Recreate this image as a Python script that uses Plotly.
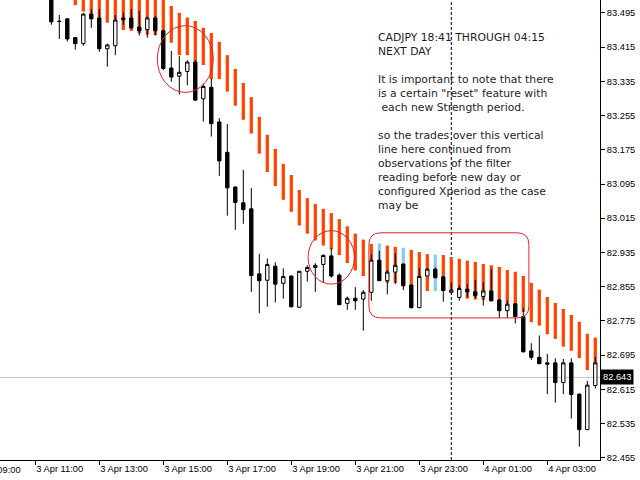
import pandas as pd
import plotly.graph_objects as go

# CADJPY M15, 3 Apr 11:30 -> 4 Apr 04:30
times = pd.date_range("2017-04-03 11:30", periods=69, freq="15min")

opens = [83.540, 83.475, 83.481, 83.437, 83.423, 83.492, 83.483, 83.411, 83.418, 83.483,
         83.483, 83.462, 83.456, 83.483, 83.453, 83.366, 83.347, 83.358, 83.380, 83.294,
         83.321, 83.240, 83.169, 83.088, 83.051, 83.037, 82.885, 82.870, 82.903, 82.863,
         82.880, 82.807, 82.891, 82.900, 82.907, 82.927, 82.882, 82.816, 82.828, 82.826,
         82.842, 82.917, 82.869, 82.889, 82.908, 82.859, 82.806, 82.880, 82.896, 82.878,
         82.842, 82.830, 82.849, 82.843, 82.832, 82.845, 82.824, 82.799, 82.815, 82.785,
         82.705, 82.690, 82.677, 82.677, 82.631, 82.677, 82.604, 82.521, 82.624]
highs = [83.555, 83.490, 83.482, 83.438, 83.495, 83.504, 83.504, 83.423, 83.490, 83.496,
         83.504, 83.499, 83.486, 83.487, 83.455, 83.406, 83.394, 83.384, 83.385, 83.330,
         83.342, 83.249, 83.235, 83.090, 83.128, 83.086, 82.932, 82.921, 82.912, 82.898,
         82.881, 82.892, 82.905, 82.910, 82.931, 82.945, 82.886, 82.832, 82.854, 82.847,
         82.931, 82.939, 82.894, 82.933, 82.909, 82.860, 82.899, 82.899, 82.900, 82.880,
         82.865, 82.858, 82.862, 82.871, 82.866, 82.896, 82.826, 82.823, 82.816, 82.805,
         82.723, 82.741, 82.698, 82.688, 82.686, 82.688, 82.605, 82.635, 82.691]
lows = [83.467, 83.434, 83.428, 83.409, 83.418, 83.460, 83.404, 83.369, 83.396, 83.467,
        83.457, 83.442, 83.437, 83.442, 83.361, 83.334, 83.304, 83.326, 83.290, 83.241,
        83.206, 83.114, 83.021, 82.988, 83.002, 82.843, 82.793, 82.808, 82.818, 82.827,
        82.807, 82.806, 82.867, 82.843, 82.864, 82.876, 82.812, 82.801, 82.801, 82.752,
        82.822, 82.869, 82.837, 82.861, 82.847, 82.804, 82.805, 82.880, 82.875, 82.820,
        82.837, 82.822, 82.830, 82.828, 82.811, 82.822, 82.782, 82.782, 82.769, 82.701,
        82.684, 82.675, 82.604, 82.584, 82.604, 82.547, 82.481, 82.520, 82.617]
closes = [83.474, 83.475, 83.434, 83.423, 83.492, 83.481, 83.411, 83.420, 83.478, 83.479,
          83.460, 83.453, 83.483, 83.453, 83.365, 83.345, 83.356, 83.380, 83.291, 83.323,
          83.236, 83.149, 83.086, 83.052, 83.035, 82.881, 82.869, 82.907, 82.861, 82.879,
          82.808, 82.891, 82.900, 82.905, 82.928, 82.880, 82.813, 82.828, 82.822, 82.842,
          82.917, 82.869, 82.889, 82.905, 82.857, 82.806, 82.879, 82.896, 82.876, 82.846,
          82.847, 82.851, 82.843, 82.834, 82.845, 82.822, 82.799, 82.814, 82.785, 82.703,
          82.690, 82.675, 82.674, 82.631, 82.677, 82.603, 82.521, 82.625, 82.677]

# strength filter histogram, 3 Apr 12:15 -> 4 Apr 04:30
band_times = pd.date_range("2017-04-03 12:15", periods=66, freq="15min")
band_hi = [83.603, 83.588, 83.580, 83.568, 83.562, 83.557, 83.545, 83.543, 83.537, 83.534,
           83.533, 83.529, 83.511, 83.495, 83.484, 83.476, 83.460, 83.448, 83.427, 83.396,
           83.364, 83.331, 83.298, 83.252, 83.210, 83.177, 83.142, 83.116, 83.081, 83.062,
           83.048, 83.037, 83.027, 83.013, 82.996, 82.979, 82.965, 82.955, 82.956, 82.951,
           82.948, 82.946, 82.941, 82.936, 82.931, 82.930, 82.929, 82.924, 82.920, 82.916,
           82.913, 82.908, 82.905, 82.901, 82.894, 82.890, 82.880, 82.864, 82.848, 82.831,
           82.817, 82.803, 82.789, 82.773, 82.745, 82.736]
band_lo = [83.513, 83.498, 83.490, 83.478, 83.472, 83.467, 83.455, 83.453, 83.447, 83.444,
           83.443, 83.439, 83.425, 83.396, 83.396, 83.373, 83.373, 83.340, 83.340, 83.311,
           83.278, 83.245, 83.213, 83.166, 83.123, 83.090, 83.058, 83.030, 82.998, 82.979,
           82.963, 82.951, 82.942, 82.929, 82.910, 82.893, 82.880, 82.871, 82.871, 82.864,
           82.864, 82.861, 82.857, 82.852, 82.845, 82.845, 82.845, 82.847, 82.834, 82.827,
           82.825, 82.824, 82.821, 82.822, 82.814, 82.814, 82.796, 82.772, 82.764, 82.744,
           82.733, 82.715, 82.705, 82.688, 82.660, 82.651]
reset_times = ["2017-04-03 21:45", "2017-04-03 22:30", "2017-04-03 23:30"]

bid = 82.643
new_day = "2017-04-04 00:00"
y_ticks = [82.455, 82.535, 82.615, 82.695, 82.775, 82.855, 82.935,
           83.015, 83.095, 83.175, 83.255, 83.335, 83.415, 83.495]

note = ("CADJPY 18:41 THROUGH 04:15<br>NEXT DAY<br> <br>"
        "It is important to note that there<br>"
        "is a certain \"reset\" feature with<br>"
        " each new Strength period.<br> <br>"
        "so the trades over this vertical<br>"
        "line here continued from<br>"
        "observations of the filter<br>"
        "reading before new day or<br>"
        "configured Xperiod as the case<br>"
        "may be")

x_start = pd.Timestamp("2017-04-03 09:53:48.75")
x_end = x_start + pd.Timedelta(minutes=15 * 75)

reset_set = set(pd.to_datetime(reset_times))
bar_colors = ["#87CEEB" if t in reset_set else "#FF4500" for t in band_times]

fig = go.Figure()
fig.add_trace(go.Bar(
    x=band_times, base=band_lo,
    y=[h - l for h, l in zip(band_hi, band_lo)],
    width=370000, marker=dict(color=bar_colors, line=dict(width=0)),
    showlegend=False, hoverinfo="skip"))
fig.add_trace(go.Candlestick(
    x=times, open=opens, high=highs, low=lows, close=closes,
    increasing=dict(line=dict(color="black", width=1), fillcolor="white"),
    decreasing=dict(line=dict(color="black", width=1), fillcolor="black"),
    whiskerwidth=0, showlegend=False))


def ts(t):
    return pd.Timestamp(t).strftime("%Y-%m-%d_%H:%M:%S")


def rounded_rect(x0, x1, y0, y1, rx, ry):
    x0, x1 = pd.Timestamp(x0), pd.Timestamp(x1)
    rx = pd.Timedelta(minutes=rx)
    return (f"M {ts(x0 + rx)},{y1} L {ts(x1 - rx)},{y1} "
            f"Q {ts(x1)},{y1} {ts(x1)},{y1 - ry} L {ts(x1)},{y0 + ry} "
            f"Q {ts(x1)},{y0} {ts(x1 - rx)},{y0} L {ts(x0 + rx)},{y0} "
            f"Q {ts(x0)},{y0} {ts(x0)},{y0 + ry} L {ts(x0)},{y1 - ry} "
            f"Q {ts(x0)},{y1} {ts(x0 + rx)},{y1} Z")


red = "#E4202F"
fig.add_hline(y=bid, line=dict(color="#C0C0C0", width=1), layer="below")
fig.add_vline(x=pd.Timestamp(new_day).value / 1e6,
              line=dict(color="black", width=1, dash="3px,2px"), layer="below")
fig.add_shape(type="circle", x0="2017-04-03 14:48:45", x1="2017-04-03 16:33:45",
              y0=83.309, y1=83.465, line=dict(color=red, width=1))
fig.add_shape(type="circle", x0="2017-04-03 19:31:30", x1="2017-04-03 20:58:30",
              y0=82.861, y1=82.986, line=dict(color=red, width=1))
fig.add_shape(type="path",
              path=rounded_rect("2017-04-03 21:25:30", "2017-04-04 02:25:30",
                                82.782, 82.981, 22.5, 0.028),
              line=dict(color=red, width=1))

fig.add_annotation(x="2017-04-03 21:39", y=83.457, xanchor="left", yanchor="top",
                   text=note, showarrow=False, align="left",
                   font=dict(family="DejaVu Sans", size=10.8, color="#1e1e1e"))

# price label of the bid line
fig.add_annotation(x=1, xref="paper", y=bid, xanchor="left", yanchor="middle",
                   text=f"{bid:.3f}", showarrow=False, bgcolor="black",
                   borderpad=2, font=dict(family="Liberation Sans", size=9.3, color="white"))

# first time label, cut by the left edge like in the terminal
t_first = pd.Timestamp("2017-04-03 09:00")
frac = (t_first - x_start) / (x_end - x_start)
fig.add_annotation(x=frac, xref="paper", y=0, yref="paper", yshift=-3,
                   xanchor="left", yanchor="top", text="3 Apr 09:00",
                   showarrow=False,
                   font=dict(family="Liberation Sans", size=9.3, color="black"))

tick_font = dict(family="Liberation Sans", size=9.3, color="black")
fig.update_layout(
    width=640, height=480,
    margin=dict(l=0, r=40, t=0, b=20),
    plot_bgcolor="white", paper_bgcolor="white",
    boxgap=0.4, showlegend=False,
    xaxis=dict(type="date", range=[x_start, x_end], rangeslider=dict(visible=False),
               showgrid=False, zeroline=False, showline=True, linecolor="black",
               linewidth=1, ticks="outside", ticklen=4, tickcolor="black",
               tick0="2017-04-03 11:00", dtick=7200000, tickformat="%-d %b %H:%M",
               ticklabelposition="outside right", tickfont=tick_font),
    yaxis=dict(side="right", range=[82.450, 83.525], showgrid=False, zeroline=False,
               showline=True, linecolor="black", linewidth=1, ticks="outside",
               ticklen=4, tickcolor="black", tickvals=y_ticks,
               ticktext=[f"{v:.3f}" for v in y_ticks], tickfont=tick_font),
)

# the page body has a default margin; drop it so the chart sits at the corner
fig.write_html("out.html", config={"displayModeBar": False},
               post_script="document.body.style.margin='0';")
